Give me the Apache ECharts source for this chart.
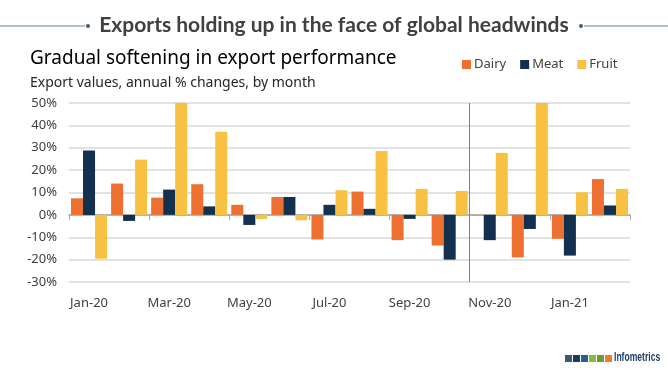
<!DOCTYPE html>
<html><head><meta charset="utf-8">
<script src="https://cdn.jsdelivr.net/npm/echarts@6/dist/echarts.min.js"></script>
<style>html,body{margin:0;padding:0;background:#fff}#c{width:668px;height:371px}</style>
</head><body><div id="c"></div>
<script>
const months = ['Jan-20','Feb-20','Mar-20','Apr-20','May-20','Jun-20','Jul-20','Aug-20','Sep-20','Oct-20','Nov-20','Dec-20','Jan-21','Feb-21'];
const dairy = [7.4, 14, 7.7, 13.7, 4.5, 8, -11, 10.4, -11.3, -13.7, -0.2, -19, -10.7, 16];
const meat  = [28.8, -2.7, 11.3, 3.8, -4.5, 8, 4.5, 2.7, -1.8, -20, -11.3, -6.3, -18.2, 4.2];
const fruit = [-19.6, 24.7, 50, 37.2, -1.8, -2.4, 11, 28.6, 11.6, 10.7, 27.7, 50, 10.1, 11.6];
const yTicks = {min: -30, max: 50, interval: 10};
const dividerAfter = 10; // boundary between Oct-20 and Nov-20 (months before it)

const font = '"Noto Sans", "Open Sans", sans-serif';
const chart = echarts.init(document.getElementById('c'), null, {renderer: 'canvas'});
const logoColors = ['#3d5a73','#1d3a5a','#2b5c8e','#8cb93c','#6e9a30','#f07b2b'];
const logo = logoColors.map((c, i) => ({type: 'rect', x: 565 + i * 8, y: 355, shape: {width: 7, height: 7}, style: {fill: c}}));

chart.setOption({
  animation: false,
  textStyle: {fontFamily: font},
  grid: {left: 69, right: 38, top: 103, bottom: 89, outerBoundsMode: 'none', containLabel: false},
  legend: {
    data: ['Dairy', 'Meat', 'Fruit'],
    left: 457, top: 53, itemWidth: 9, itemHeight: 9, itemGap: 14, icon: 'rect',
    textStyle: {fontSize: 13, color: '#404040', fontFamily: font, padding: [0, 0, 0, -2]}
  },
  graphic: [
    {type: 'line', shape: {x1: 0, y1: 26, x2: 85, y2: 26}, style: {stroke: '#5e7f92', lineWidth: 1}},
    {type: 'circle', shape: {cx: 88, cy: 26, r: 2}, style: {fill: '#3f6177'}},
    {type: 'line', shape: {x1: 584, y1: 26, x2: 668, y2: 26}, style: {stroke: '#5e7f92', lineWidth: 1}},
    {type: 'circle', shape: {cx: 581, cy: 26, r: 2}, style: {fill: '#3f6177'}},
    {type: 'text', left: 'center', top: 15, style: {text: 'Exports holding up in the face of global headwinds', font: 'bold 21px Lato, "DejaVu Sans", sans-serif', fill: '#404040'}},
    {type: 'text', left: 30, top: 49, style: {text: 'Gradual softening in export performance', font: '19px ' + font, fill: '#000'}},
    {type: 'text', left: 30, top: 76, style: {text: 'Export values, annual % changes, by month', font: '14px ' + font, fill: '#262626'}},
    ...logo,
    {type: 'text', x: 614, y: 351, scaleX: 0.66, style: {text: 'Infometrics', font: 'bold 13px "Liberation Sans", sans-serif', fill: '#1e3f66'}}
  ],
  xAxis: [{
    type: 'category', data: months,
    axisLine: {onZero: true, lineStyle: {color: '#a6a6a6', width: 1.5}},
    axisTick: {show: true, interval: 1, length: 5, lineStyle: {color: '#a6a6a6'}},
    axisLabel: {interval: 1, color: '#404040', fontSize: 13, margin: 15, fontFamily: font},
    splitLine: {show: false}
  }, {
    type: 'value', min: 0, max: months.length, show: false
  }],
  yAxis: {
    type: 'value', min: yTicks.min, max: yTicks.max, interval: yTicks.interval,
    axisLabel: {formatter: v => v + '%', color: '#404040', fontSize: 13, margin: 12, fontFamily: font},
    splitLine: {lineStyle: {color: '#d9d9d9', width: 1.5}},
    axisLine: {show: false}, axisTick: {show: false}
  },
  series: [
    {name: 'Dairy', type: 'bar', data: dairy, itemStyle: {color: '#ed7031'}, barGap: '0%', barCategoryGap: '10%'},
    {name: 'Meat', type: 'bar', data: meat, itemStyle: {color: '#14304f'}},
    {name: 'Fruit', type: 'bar', data: fruit, itemStyle: {color: '#f7c244'}},
    {name: 'divider', type: 'line', xAxisIndex: 1, data: [], silent: true,
      markLine: {symbol: 'none', silent: true, label: {show: false},
        lineStyle: {color: '#808080', width: 1, type: 'solid'},
        data: [{xAxis: dividerAfter}]}}
  ]
});
</script></body></html>
